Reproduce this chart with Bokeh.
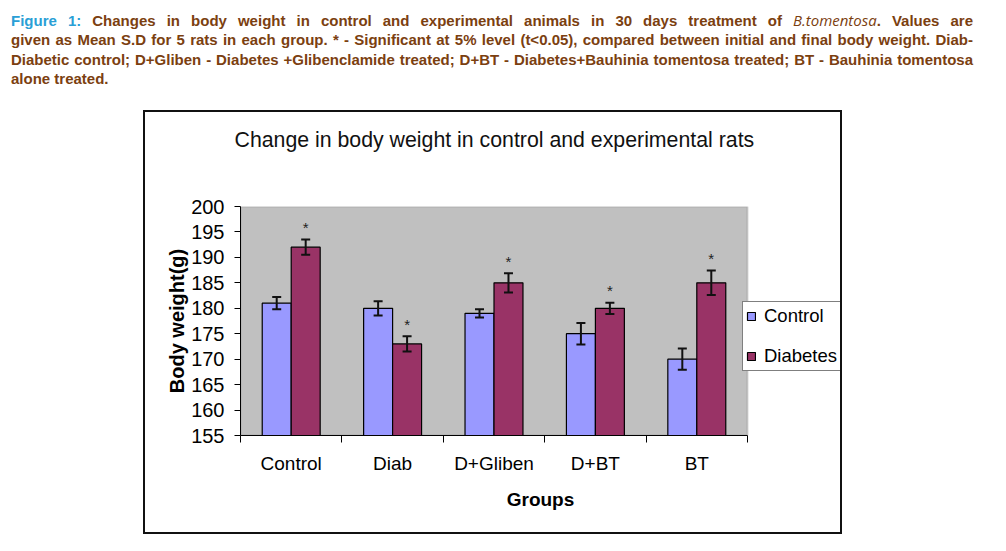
import numpy as np
from bokeh.plotting import figure
from bokeh.models import (ColumnDataSource, Range1d, FixedTicker, Whisker, TeeHead,
                          Legend, LegendItem, BoxAnnotation, Div, Spacer,
                          CustomJSTickFormatter)
from bokeh.layouts import column, row
from bokeh.embed import file_html
from bokeh.resources import INLINE
from bokeh.core.properties import value

# ---------------- data ----------------
groups = ["Control", "Diab", "D+Gliben", "D+BT", "BT"]
series = ["Control", "Diabetes"]
control_mean = [181, 180, 179, 175, 170]
control_sd = [1.2, 1.4, 0.8, 2.1, 2.1]
diabetes_mean = [192, 173, 185, 180, 185]
diabetes_sd = [1.5, 1.5, 1.9, 1.1, 2.4]
diabetes_mark = ["*", "*", "*", "*", "*"]
y_ticks = [155, 160, 165, 170, 175, 180, 185, 190, 195, 200]

title_text = "Change in body weight in control and experimental rats"
x_label = "Groups"
y_label = "Body weight(g)"

FONT = "Liberation Sans"
CTRL_COLOR = "#9999FF"
DIAB_COLOR = "#993366"

bar_w = 1 / 3.5
centers = np.arange(len(groups)) + 0.5
n_groups = len(groups)
y0, y1 = y_ticks[0], y_ticks[-1]

# frame is 600 px wide, of which the grey plot area takes 507 px
x_end = n_groups * 600 / 507


def make_src(mean, sd, shift, marks=None):
    m = np.array(mean, dtype=float)
    s = np.array(sd, dtype=float)
    d = dict(x=centers + shift, top=m, upper=m + s, lower=m - s)
    if marks is not None:
        d["mark"] = marks
    return ColumnDataSource(d)


src_c = make_src(control_mean, control_sd, -bar_w / 2)
src_d = make_src(diabetes_mean, diabetes_sd, bar_w / 2, diabetes_mark)

p = figure(width=695, height=420,
           x_range=Range1d(0, x_end), y_range=Range1d(y0, y1),
           output_backend="svg", toolbar_location=None,
           min_border_left=95, min_border_right=0, min_border_top=94, min_border_bottom=97,
           background_fill_color="white", border_fill_color="white",
           outline_line_color=None)
p.styles = {"outline": "2px solid #111111"}
p.xgrid.visible = False
p.ygrid.visible = False

# chart title (two blank trailing lines lift it well above the plot area)
p.title.text = title_text + "\n \n "
p.title.align = "left"
p.title.offset = -6
p.title.standoff = 14
p.title.text_font = FONT
p.title.text_font_style = "normal"
p.title.text_font_size = "21.3px"
p.title.text_color = "#111111"

# grey plot area
p.add_layout(BoxAnnotation(left=0, right=n_groups, bottom=y0, top=y1,
                           fill_color="#C0C0C0", fill_alpha=1.0,
                           line_color="#808080", line_width=2, level="underlay"))

r_c = p.vbar(x="x", top="top", bottom=y0, width=bar_w, source=src_c,
             fill_color=CTRL_COLOR, line_color="black", line_width=1.2)
r_d = p.vbar(x="x", top="top", bottom=y0, width=bar_w, source=src_d,
             fill_color=DIAB_COLOR, line_color="black", line_width=1.2)

for src in (src_c, src_d):
    p.add_layout(Whisker(source=src, base="x", upper="upper", lower="lower",
                         line_width=2, line_color="#111111", level="overlay",
                         upper_head=TeeHead(size=9, line_width=2, line_color="#111111"),
                         lower_head=TeeHead(size=9, line_width=2, line_color="#111111")))

p.text(x="x", y="upper", text="mark", source=src_d, text_align="center",
       text_baseline="alphabetic", y_offset=-12, text_font=value(FONT),
       text_font_size="15px", text_color="#222222")

# ---------------- axes ----------------
ya = p.yaxis[0]
ya.bounds = (y0, y1)
ya.ticker = FixedTicker(ticks=y_ticks)
ya.major_label_text_font = FONT
ya.major_label_text_font_size = "20px"
ya.major_label_text_color = "black"
ya.major_tick_out = 6
ya.major_tick_in = 0
ya.minor_tick_out = 0
ya.minor_tick_in = 0
ya.major_tick_line_color = "black"
ya.axis_line_color = "black"
ya.major_label_standoff = 10
ya.axis_label = y_label
ya.axis_label_text_font = FONT
ya.axis_label_text_font_style = "bold"
ya.axis_label_text_font_size = "20px"
ya.axis_label_text_color = "black"
ya.axis_label_standoff = 0

xa = p.xaxis[0]
xa.bounds = (0, n_groups)
xa.ticker = FixedTicker(ticks=list(centers), minor_ticks=list(range(n_groups + 1)))
xa.formatter = CustomJSTickFormatter(args=dict(names=groups),
                                     code="return names[Math.floor(tick)] || '';")
xa.major_label_text_font = FONT
xa.major_label_text_font_size = "19px"
xa.major_label_text_color = "black"
xa.major_tick_out = 0
xa.major_tick_in = 0
xa.minor_tick_out = 7
xa.minor_tick_in = 0
xa.minor_tick_line_color = "black"
xa.axis_line_color = "black"
xa.major_label_standoff = 10
xa.axis_label = x_label
xa.axis_label_text_font = FONT
xa.axis_label_text_font_style = "bold"
xa.axis_label_text_font_size = "19px"
xa.axis_label_text_color = "black"
xa.axis_label_standoff = 12

# ---------------- legend ----------------
legend = Legend(items=[LegendItem(label=series[0], renderers=[r_c]),
                       LegendItem(label=series[1], renderers=[r_d])],
                location=(502, 64), margin=0, padding=3, spacing=18,
                glyph_width=10, glyph_height=10, label_height=20, label_standoff=8,
                label_text_font=FONT, label_text_font_size="18.5px", label_text_color="black",
                border_line_color="black", border_line_width=1.5,
                background_fill_color="white", background_fill_alpha=1.0)
p.add_layout(legend)

# ---------------- caption ----------------
brown = "#7b4010"
blue = "#2a9fd6"
line_style = ("white-space:nowrap;text-align:justify;text-align-last:justify;"
              "height:19.3px;line-height:19.3px;")
cap_lines = [
    f'<span style="color:{blue}">Figure 1:</span> Changes in body weight in control and experimental '
    f'animals in 30 days treatment of <i style="font-weight:normal;font-family:\'Open Sans\'">B.tomentosa</i>. Values are',
    "given as Mean S.D for 5 rats in each group. * - Significant at 5% level (t&lt;0.05), compared "
    "between initial and final body weight. Diab-",
    "Diabetic control; D+Gliben - Diabetes +Glibenclamide treated; D+BT - Diabetes+Bauhinia tomentosa "
    "treated; BT - Bauhinia tomentosa",
]
last_line = "alone treated."
html = (f'<div style="width:973px;margin:0;padding:11px 0 0 11px;font-family:\'Liberation Sans\',Arial,sans-serif;'
        f'font-weight:bold;font-size:15px;color:{brown};">'
        + "".join(f'<div style="{line_style}">{ln}</div>' for ln in cap_lines)
        + f'<div style="white-space:nowrap;height:19.3px;line-height:19.3px;">{last_line}</div></div>')
caption = Div(text=html, width=1000, height=112, margin=(0, 0, 0, 0))

layout = column(caption, row(Spacer(width=145, height=420, margin=(0, 0, 0, 0)), p))
open("out.html", "w").write(file_html(layout, INLINE))
